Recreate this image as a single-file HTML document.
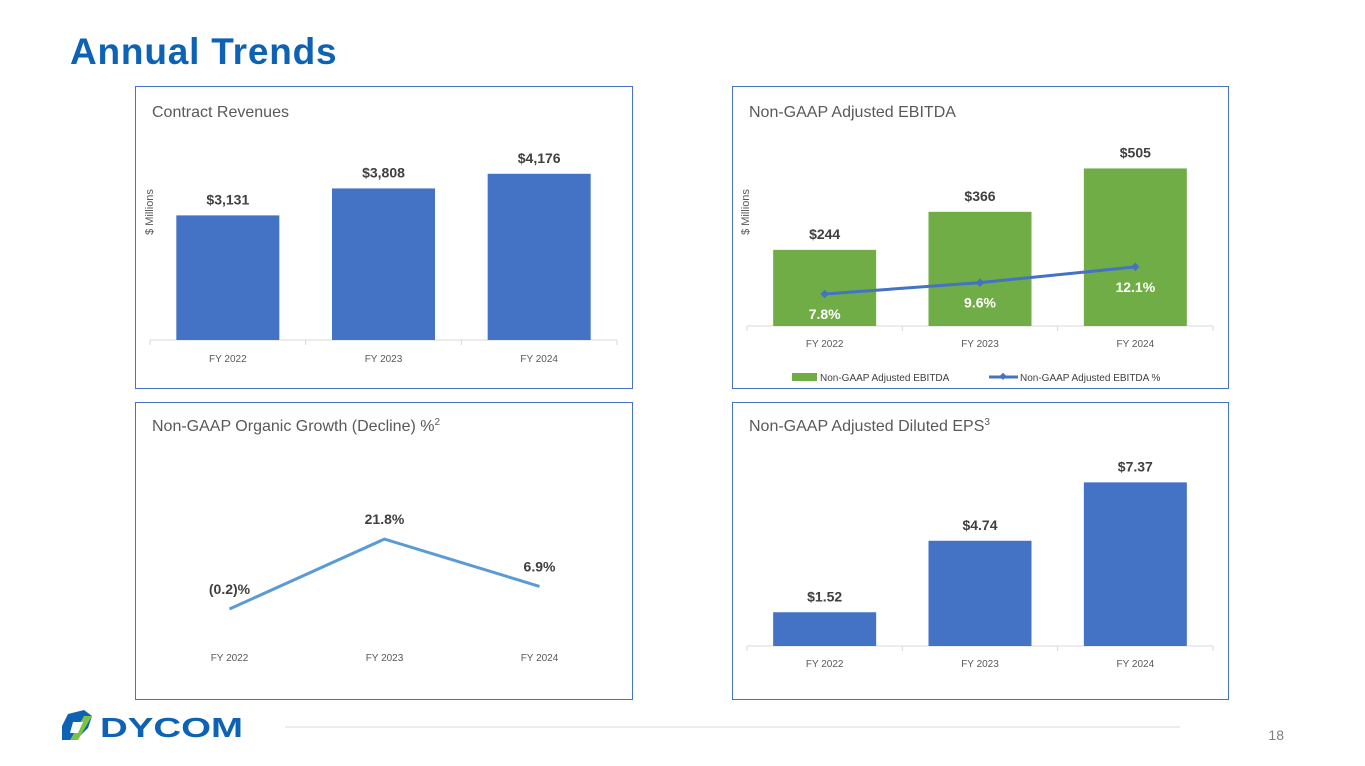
<!DOCTYPE html>
<html><head><meta charset="utf-8"><style>
body{margin:0;width:1365px;height:766px;background:#fff;font-family:"Liberation Sans",sans-serif;position:relative;overflow:hidden}
.title{position:absolute;left:70px;top:31px;font-size:37px;font-weight:bold;color:#0d62b5;letter-spacing:0.8px}
.panel{position:absolute;border:1px solid #4472c4;box-sizing:border-box}
svg text{font-family:"Liberation Sans",sans-serif}
</style></head><body>
<div class="title">Annual Trends</div>
<div class="panel" style="left:135px;top:86px;width:498px;height:303px"></div>
<div class="panel" style="left:732px;top:86px;width:497px;height:303px"></div>
<div class="panel" style="left:135px;top:402px;width:498px;height:298px"></div>
<div class="panel" style="left:732px;top:402px;width:497px;height:298px"></div>
<svg id="chart" width="1365" height="766" style="position:absolute;left:0;top:0">
<text x="152" y="117" font-size="16" fill="#595959">Contract Revenues</text>
<text x="749" y="117" font-size="16" fill="#595959">Non-GAAP Adjusted EBITDA</text>
<text x="152" y="431" font-size="16" fill="#595959">Non-GAAP Organic Growth (Decline) %<tspan font-size="10" dy="-6">2</tspan></text>
<text x="749" y="431" font-size="16" fill="#595959">Non-GAAP Adjusted Diluted EPS<tspan font-size="10" dy="-6">3</tspan></text>
<text transform="translate(153,212) rotate(-90)" text-anchor="middle" font-size="11" fill="#595959">$ Millions</text>
<text transform="translate(749,212) rotate(-90)" text-anchor="middle" font-size="11" fill="#595959">$ Millions</text>
<g>
<rect x="792" y="373" width="25" height="8" fill="#70ad47"/>
<text x="820" y="381" font-size="10" fill="#404040">Non-GAAP Adjusted EBITDA</text>
<line x1="989" y1="377" x2="1018" y2="377" stroke="#4472c4" stroke-width="3"/>
<rect x="1000" y="374" width="5" height="5" fill="#4472c4" transform="rotate(45 1003 377)"/>
<text x="1020" y="381" font-size="10" fill="#404040">Non-GAAP Adjusted EBITDA %</text>
</g>
<line x1="285" y1="727" x2="1180" y2="727" stroke="#d9d9d9"/>
<text x="1284" y="740" font-size="14" fill="#7f7f7f" text-anchor="end">18</text>
<g>
<path d="M68 714 L84 710 L92 716 L88 728 L76 740 L62 740 L62 726 Z" fill="#0d62b5"/>
<path d="M84 716 L92 716 L78 740 L70 740 Z" fill="#7dc242"/>
<path d="M73 722 L83 722 L78 733 L70 733 Z" fill="#fff"/>
<text x="100" y="737" font-size="28" font-weight="bold" fill="#0d62b5" textLength="143" lengthAdjust="spacingAndGlyphs">DYCOM</text>
</g>
</svg>
<script>
const categories=["FY 2022","FY 2023","FY 2024"];
const revenues=[3131,3808,4176];
const revenueLabels=["$3,131","$3,808","$4,176"];
const ebitda=[244,366,505];
const ebitdaLabels=["$244","$366","$505"];
const ebitdaPct=[7.8,9.6,12.1];
const ebitdaPctLabels=["7.8%","9.6%","12.1%"];
const organic=[-0.2,21.8,6.9];
const organicLabels=["(0.2)%","21.8%","6.9%"];
const eps=[1.52,4.74,7.37];
const epsLabels=["$1.52","$4.74","$7.37"];
const svg=document.getElementById('chart');
const NS='http://www.w3.org/2000/svg';
function mk(tag,a){const e=document.createElementNS(NS,tag);for(const k in a)e.setAttribute(k,a[k]);svg.appendChild(e);return e;}
function txt(x,y,s,size,fill,bold){const t=mk('text',{x:x,y:y,'font-size':size,fill:fill,'text-anchor':'middle','font-weight':bold?'bold':'normal'});t.textContent=s;return t;}
function axis(x0,x1,y,lblY,axisLine,prefix){
  if(axisLine){const l=mk('line',{x1:x0,y1:y,x2:x1,y2:y,stroke:'#d9d9d9'});
  
  
  const step=(x1-x0)/categories.length;
  for(let i=0;i<=categories.length;i++){mk('line',{x1:x0+i*step,y1:y,x2:x0+i*step,y2:y+5,stroke:'#d9d9d9'});}}
  const step=(x1-x0)/categories.length;
  categories.forEach((c,i)=>{const t=txt(x0+step*(i+.5),lblY,c,10,'#595959',false);
  
  });
}
function bars(x0,x1,base,scale,vals,labels,color,prefix,labelOff){
  const step=(x1-x0)/vals.length,bw=103;
  vals.forEach((v,i)=>{const cx=x0+step*(i+.5),h=v*scale;
    const r=mk('rect',{x:cx-bw/2,y:base-h,width:bw,height:h,fill:color});
    
    
    const t=txt(cx,base-h-labelOff,labels[i],14,'#404040',true);
    
    });
}
axis(150,617,340,362,true,'revenues');
bars(150,617,340,0.0398,revenues,revenueLabels,'#4472c4','revenues',11);
axis(747,1213,326,347,true,'ebitda');
bars(747,1213,326,0.312,ebitda,ebitdaLabels,'#70ad47','ebitda',11);
(function(){const step=(1213-747)/3;const yp=v=>294-(v-7.8)*6.3;
 const pts=ebitdaPct.map((v,i)=>[747+step*(i+.5),yp(v)]);
 const p=mk('polyline',{points:pts.map(p=>p.join(',')).join(' '),fill:'none',stroke:'#4472c4','stroke-width':3});
 
 
 pts.forEach((q,i)=>{mk('rect',{x:q[0]-3,y:q[1]-3,width:6,height:6,fill:'#4472c4',transform:`rotate(45 ${q[0]} ${q[1]})`});
  const t=txt(q[0],q[1]+25,ebitdaPctLabels[i],14,'#fff',true);
  
  });})();
axis(152,617,0,661,false,'organic');
(function(){const step=(617-152)/3;const yp=v=>609-(v+0.2)*3.18;
 const pts=organic.map((v,i)=>[152+step*(i+.5),yp(v)]);
 const p=mk('polyline',{points:pts.map(p=>p.join(',')).join(' '),fill:'none',stroke:'#5b9bd5','stroke-width':3});
 
 
 pts.forEach((q,i)=>{const t=txt(q[0],q[1]-15,organicLabels[i],14,'#404040',true);
  
  });})();
axis(747,1213,646,667,true,'eps');
bars(747,1213,646,22.2,eps,epsLabels,'#4472c4','eps',11);
</script>
</body></html>
